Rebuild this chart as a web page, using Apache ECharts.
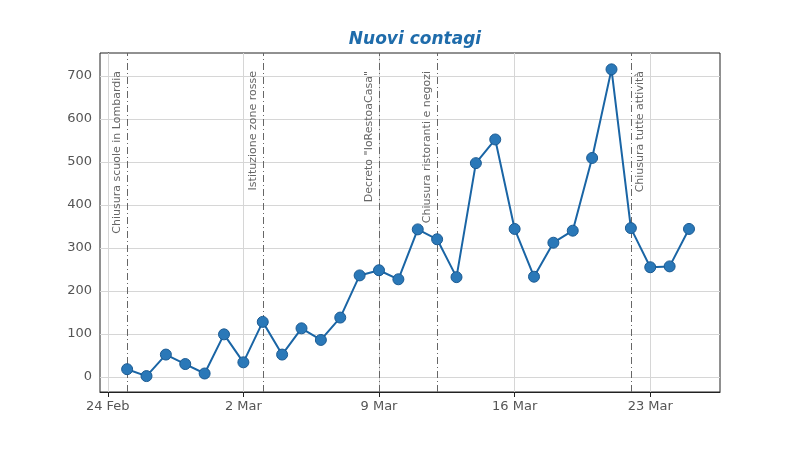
<!DOCTYPE html>
<html><head><meta charset="utf-8">
<script src="https://cdn.jsdelivr.net/npm/echarts@6/dist/echarts.min.js"></script>
<style>html,body{margin:0;padding:0;background:#fff}#c{width:800px;height:449px}</style>
</head><body><div id="c"></div>
<script>
// giorni contati dal 24 Feb (0 = 24 Feb)
var days = [];
for (var d = 1; d <= 30; d++) days.push(d);
var values = [18, 2, 52, 30, 8, 99, 34, 128, 52, 113, 86, 138, 236, 248, 227,
  343, 320, 232, 497, 552, 344, 233, 312, 340, 509, 715, 346, 255, 257, 344];
var xTicks = [0, 7, 14, 21, 28];
var xTickLabels = ['24 Feb', '2 Mar', '9 Mar', '16 Mar', '23 Mar'];
var yTicks = [0, 100, 200, 300, 400, 500, 600, 700];
var eventDays = [1, 8, 14, 17, 27];
var eventLabels = ['Chiusura scuole in Lombardia', 'Istituzione zone rosse',
  'Decreto "IoRestoaCasa"', 'Chiusura ristoranti e negozi', 'Chiusura tutte attività'];

var chart = echarts.init(document.getElementById('c'));
var gridLines = [];
xTicks.forEach(function (v) { gridLines.push({ xAxis: v }); });
yTicks.forEach(function (v) { gridLines.push({ yAxis: v }); });
var eventLines = eventDays.map(function (v, i) {
  var last = i === eventDays.length - 1;
  return { xAxis: v, label: { formatter: eventLabels[i], position: last ? 'insideEndBottom' : 'insideEndTop' } };
});
chart.setOption({
  animation: false,
  title: {
    text: 'Nuovi contagi', left: 410, top: 26, textAlign: 'center',
    textStyle: { fontFamily: 'DejaVu Sans', fontSize: 17, fontWeight: 'bold', fontStyle: 'italic', color: '#1f6cab' }
  },
  grid: { left: 100, right: 80, top: 53, bottom: 57, show: true, borderColor: '#222', borderWidth: 1, backgroundColor: 'transparent' },
  xAxis: {
    type: 'value', min: -0.4, max: 31.6,
    axisLine: { onZero: false, lineStyle: { color: '#222' } },
    axisTick: { customValues: xTicks, length: 5, lineStyle: { color: '#222' } },
    axisLabel: {
      customValues: xTicks, margin: 8, fontFamily: 'DejaVu Sans', fontSize: 13, color: '#555',
      formatter: function (v) { return xTickLabels[xTicks.indexOf(Math.round(v))] || ''; }
    },
    splitLine: { show: false }
  },
  yAxis: {
    type: 'value', min: -35, max: 753,
    axisLine: { show: true, lineStyle: { color: '#222' } },
    axisTick: { show: true, customValues: yTicks, length: 5, lineStyle: { color: '#222' } },
    axisLabel: { customValues: yTicks, fontFamily: 'DejaVu Sans', fontSize: 13, color: '#555' },
    splitLine: { show: false }
  },
  series: [{
    type: 'line', data: [], silent: true,
    markLine: { symbol: 'none', silent: true, label: { show: false },
      lineStyle: { color: '#d6d6d6', type: 'solid', width: 1 }, data: gridLines }
  }, {
    type: 'line', data: [], silent: true,
    markLine: { symbol: 'none', silent: true,
      lineStyle: { color: '#666', type: [7, 3, 1, 3], width: 1 },
      label: { distance: 4, padding: [0, 14, 0, 0], fontFamily: 'DejaVu Sans', fontSize: 11, color: '#666' },
      data: eventLines }
  }, {
    type: 'line', z: 5,
    data: days.map(function (d, i) { return [d, values[i]]; }),
    symbol: 'circle', symbolSize: 11,
    lineStyle: { color: '#1a65a5', width: 2 },
    itemStyle: { color: '#2a78b8', borderColor: '#1a5a92', borderWidth: 1 }
  }]
});
</script></body></html>
